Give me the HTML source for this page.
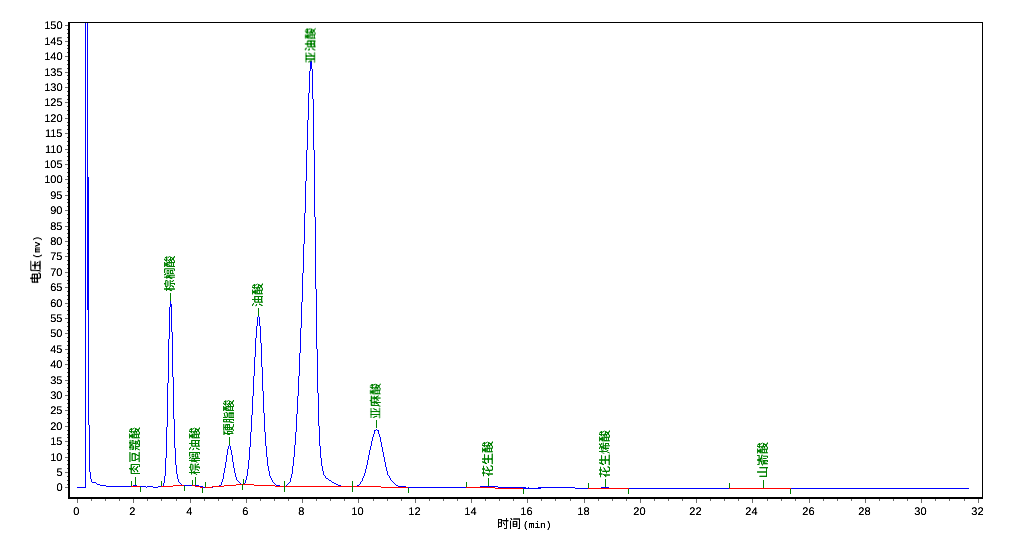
<!DOCTYPE html>
<html lang="zh"><head><meta charset="utf-8"><title>色谱图</title>
<style>
html,body{margin:0;padding:0;background:#fff;}
body{width:1012px;height:552px;overflow:hidden;}
svg{display:block;}
svg rect{shape-rendering:crispEdges;}
svg text{text-rendering:geometricPrecision;}
</style></head><body>
<svg width="1012" height="552" viewBox="0 0 1012 552">
<rect x="0" y="0" width="1012" height="552" fill="#fff"/>
<g>
<rect x="68" y="22" width="915" height="1" fill="#000"/>
<rect x="68" y="22" width="2" height="477" fill="#000"/>
<rect x="68" y="497" width="915" height="2" fill="#000"/>
<rect x="982" y="22" width="1" height="477" fill="#000"/>
<rect x="77" y="499" width="1" height="4" fill="#707070"/>
<rect x="91" y="499" width="1" height="2" fill="#707070"/>
<rect x="105" y="499" width="1" height="2" fill="#707070"/>
<rect x="119" y="499" width="1" height="2" fill="#707070"/>
<rect x="133" y="499" width="1" height="4" fill="#707070"/>
<rect x="147" y="499" width="1" height="2" fill="#707070"/>
<rect x="161" y="499" width="1" height="2" fill="#707070"/>
<rect x="176" y="499" width="1" height="2" fill="#707070"/>
<rect x="190" y="499" width="1" height="4" fill="#707070"/>
<rect x="204" y="499" width="1" height="2" fill="#707070"/>
<rect x="218" y="499" width="1" height="2" fill="#707070"/>
<rect x="232" y="499" width="1" height="2" fill="#707070"/>
<rect x="246" y="499" width="1" height="4" fill="#707070"/>
<rect x="260" y="499" width="1" height="2" fill="#707070"/>
<rect x="274" y="499" width="1" height="2" fill="#707070"/>
<rect x="288" y="499" width="1" height="2" fill="#707070"/>
<rect x="302" y="499" width="1" height="4" fill="#707070"/>
<rect x="316" y="499" width="1" height="2" fill="#707070"/>
<rect x="330" y="499" width="1" height="2" fill="#707070"/>
<rect x="344" y="499" width="1" height="2" fill="#707070"/>
<rect x="358" y="499" width="1" height="4" fill="#707070"/>
<rect x="373" y="499" width="1" height="2" fill="#707070"/>
<rect x="387" y="499" width="1" height="2" fill="#707070"/>
<rect x="401" y="499" width="1" height="2" fill="#707070"/>
<rect x="415" y="499" width="1" height="4" fill="#707070"/>
<rect x="429" y="499" width="1" height="2" fill="#707070"/>
<rect x="443" y="499" width="1" height="2" fill="#707070"/>
<rect x="457" y="499" width="1" height="2" fill="#707070"/>
<rect x="471" y="499" width="1" height="4" fill="#707070"/>
<rect x="485" y="499" width="1" height="2" fill="#707070"/>
<rect x="499" y="499" width="1" height="2" fill="#707070"/>
<rect x="513" y="499" width="1" height="2" fill="#707070"/>
<rect x="527" y="499" width="1" height="4" fill="#707070"/>
<rect x="541" y="499" width="1" height="2" fill="#707070"/>
<rect x="555" y="499" width="1" height="2" fill="#707070"/>
<rect x="570" y="499" width="1" height="2" fill="#707070"/>
<rect x="584" y="499" width="1" height="4" fill="#707070"/>
<rect x="598" y="499" width="1" height="2" fill="#707070"/>
<rect x="612" y="499" width="1" height="2" fill="#707070"/>
<rect x="626" y="499" width="1" height="2" fill="#707070"/>
<rect x="640" y="499" width="1" height="4" fill="#707070"/>
<rect x="654" y="499" width="1" height="2" fill="#707070"/>
<rect x="668" y="499" width="1" height="2" fill="#707070"/>
<rect x="682" y="499" width="1" height="2" fill="#707070"/>
<rect x="696" y="499" width="1" height="4" fill="#707070"/>
<rect x="710" y="499" width="1" height="2" fill="#707070"/>
<rect x="724" y="499" width="1" height="2" fill="#707070"/>
<rect x="738" y="499" width="1" height="2" fill="#707070"/>
<rect x="752" y="499" width="1" height="4" fill="#707070"/>
<rect x="767" y="499" width="1" height="2" fill="#707070"/>
<rect x="781" y="499" width="1" height="2" fill="#707070"/>
<rect x="795" y="499" width="1" height="2" fill="#707070"/>
<rect x="809" y="499" width="1" height="4" fill="#707070"/>
<rect x="823" y="499" width="1" height="2" fill="#707070"/>
<rect x="837" y="499" width="1" height="2" fill="#707070"/>
<rect x="851" y="499" width="1" height="2" fill="#707070"/>
<rect x="865" y="499" width="1" height="4" fill="#707070"/>
<rect x="879" y="499" width="1" height="2" fill="#707070"/>
<rect x="893" y="499" width="1" height="2" fill="#707070"/>
<rect x="907" y="499" width="1" height="2" fill="#707070"/>
<rect x="921" y="499" width="1" height="4" fill="#707070"/>
<rect x="935" y="499" width="1" height="2" fill="#707070"/>
<rect x="949" y="499" width="1" height="2" fill="#707070"/>
<rect x="964" y="499" width="1" height="2" fill="#707070"/>
<rect x="978" y="499" width="1" height="4" fill="#707070"/>
<rect x="65" y="487" width="3" height="1" fill="#707070"/>
<rect x="67" y="484" width="1" height="1" fill="#505050"/>
<rect x="67" y="480" width="1" height="1" fill="#505050"/>
<rect x="67" y="476" width="1" height="1" fill="#505050"/>
<rect x="65" y="472" width="3" height="1" fill="#707070"/>
<rect x="67" y="468" width="1" height="1" fill="#505050"/>
<rect x="67" y="464" width="1" height="1" fill="#505050"/>
<rect x="67" y="460" width="1" height="1" fill="#505050"/>
<rect x="65" y="457" width="3" height="1" fill="#707070"/>
<rect x="67" y="453" width="1" height="1" fill="#505050"/>
<rect x="67" y="449" width="1" height="1" fill="#505050"/>
<rect x="67" y="445" width="1" height="1" fill="#505050"/>
<rect x="65" y="441" width="3" height="1" fill="#707070"/>
<rect x="67" y="437" width="1" height="1" fill="#505050"/>
<rect x="67" y="434" width="1" height="1" fill="#505050"/>
<rect x="67" y="430" width="1" height="1" fill="#505050"/>
<rect x="65" y="426" width="3" height="1" fill="#707070"/>
<rect x="67" y="422" width="1" height="1" fill="#505050"/>
<rect x="67" y="418" width="1" height="1" fill="#505050"/>
<rect x="67" y="414" width="1" height="1" fill="#505050"/>
<rect x="65" y="410" width="3" height="1" fill="#707070"/>
<rect x="67" y="407" width="1" height="1" fill="#505050"/>
<rect x="67" y="403" width="1" height="1" fill="#505050"/>
<rect x="67" y="399" width="1" height="1" fill="#505050"/>
<rect x="65" y="395" width="3" height="1" fill="#707070"/>
<rect x="67" y="391" width="1" height="1" fill="#505050"/>
<rect x="67" y="387" width="1" height="1" fill="#505050"/>
<rect x="67" y="383" width="1" height="1" fill="#505050"/>
<rect x="65" y="380" width="3" height="1" fill="#707070"/>
<rect x="67" y="376" width="1" height="1" fill="#505050"/>
<rect x="67" y="372" width="1" height="1" fill="#505050"/>
<rect x="67" y="368" width="1" height="1" fill="#505050"/>
<rect x="65" y="364" width="3" height="1" fill="#707070"/>
<rect x="67" y="360" width="1" height="1" fill="#505050"/>
<rect x="67" y="357" width="1" height="1" fill="#505050"/>
<rect x="67" y="353" width="1" height="1" fill="#505050"/>
<rect x="65" y="349" width="3" height="1" fill="#707070"/>
<rect x="67" y="345" width="1" height="1" fill="#505050"/>
<rect x="67" y="341" width="1" height="1" fill="#505050"/>
<rect x="67" y="337" width="1" height="1" fill="#505050"/>
<rect x="65" y="333" width="3" height="1" fill="#707070"/>
<rect x="67" y="330" width="1" height="1" fill="#505050"/>
<rect x="67" y="326" width="1" height="1" fill="#505050"/>
<rect x="67" y="322" width="1" height="1" fill="#505050"/>
<rect x="65" y="318" width="3" height="1" fill="#707070"/>
<rect x="67" y="314" width="1" height="1" fill="#505050"/>
<rect x="67" y="310" width="1" height="1" fill="#505050"/>
<rect x="67" y="306" width="1" height="1" fill="#505050"/>
<rect x="65" y="303" width="3" height="1" fill="#707070"/>
<rect x="67" y="299" width="1" height="1" fill="#505050"/>
<rect x="67" y="295" width="1" height="1" fill="#505050"/>
<rect x="67" y="291" width="1" height="1" fill="#505050"/>
<rect x="65" y="287" width="3" height="1" fill="#707070"/>
<rect x="67" y="283" width="1" height="1" fill="#505050"/>
<rect x="67" y="280" width="1" height="1" fill="#505050"/>
<rect x="67" y="276" width="1" height="1" fill="#505050"/>
<rect x="65" y="272" width="3" height="1" fill="#707070"/>
<rect x="67" y="268" width="1" height="1" fill="#505050"/>
<rect x="67" y="264" width="1" height="1" fill="#505050"/>
<rect x="67" y="260" width="1" height="1" fill="#505050"/>
<rect x="65" y="256" width="3" height="1" fill="#707070"/>
<rect x="67" y="253" width="1" height="1" fill="#505050"/>
<rect x="67" y="249" width="1" height="1" fill="#505050"/>
<rect x="67" y="245" width="1" height="1" fill="#505050"/>
<rect x="65" y="241" width="3" height="1" fill="#707070"/>
<rect x="67" y="237" width="1" height="1" fill="#505050"/>
<rect x="67" y="233" width="1" height="1" fill="#505050"/>
<rect x="67" y="229" width="1" height="1" fill="#505050"/>
<rect x="65" y="226" width="3" height="1" fill="#707070"/>
<rect x="67" y="222" width="1" height="1" fill="#505050"/>
<rect x="67" y="218" width="1" height="1" fill="#505050"/>
<rect x="67" y="214" width="1" height="1" fill="#505050"/>
<rect x="65" y="210" width="3" height="1" fill="#707070"/>
<rect x="67" y="206" width="1" height="1" fill="#505050"/>
<rect x="67" y="202" width="1" height="1" fill="#505050"/>
<rect x="67" y="199" width="1" height="1" fill="#505050"/>
<rect x="65" y="195" width="3" height="1" fill="#707070"/>
<rect x="67" y="191" width="1" height="1" fill="#505050"/>
<rect x="67" y="187" width="1" height="1" fill="#505050"/>
<rect x="67" y="183" width="1" height="1" fill="#505050"/>
<rect x="65" y="179" width="3" height="1" fill="#707070"/>
<rect x="67" y="176" width="1" height="1" fill="#505050"/>
<rect x="67" y="172" width="1" height="1" fill="#505050"/>
<rect x="67" y="168" width="1" height="1" fill="#505050"/>
<rect x="65" y="164" width="3" height="1" fill="#707070"/>
<rect x="67" y="160" width="1" height="1" fill="#505050"/>
<rect x="67" y="156" width="1" height="1" fill="#505050"/>
<rect x="67" y="152" width="1" height="1" fill="#505050"/>
<rect x="65" y="149" width="3" height="1" fill="#707070"/>
<rect x="67" y="145" width="1" height="1" fill="#505050"/>
<rect x="67" y="141" width="1" height="1" fill="#505050"/>
<rect x="67" y="137" width="1" height="1" fill="#505050"/>
<rect x="65" y="133" width="3" height="1" fill="#707070"/>
<rect x="67" y="129" width="1" height="1" fill="#505050"/>
<rect x="67" y="125" width="1" height="1" fill="#505050"/>
<rect x="67" y="122" width="1" height="1" fill="#505050"/>
<rect x="65" y="118" width="3" height="1" fill="#707070"/>
<rect x="67" y="114" width="1" height="1" fill="#505050"/>
<rect x="67" y="110" width="1" height="1" fill="#505050"/>
<rect x="67" y="106" width="1" height="1" fill="#505050"/>
<rect x="65" y="102" width="3" height="1" fill="#707070"/>
<rect x="67" y="99" width="1" height="1" fill="#505050"/>
<rect x="67" y="95" width="1" height="1" fill="#505050"/>
<rect x="67" y="91" width="1" height="1" fill="#505050"/>
<rect x="65" y="87" width="3" height="1" fill="#707070"/>
<rect x="67" y="83" width="1" height="1" fill="#505050"/>
<rect x="67" y="79" width="1" height="1" fill="#505050"/>
<rect x="67" y="75" width="1" height="1" fill="#505050"/>
<rect x="65" y="72" width="3" height="1" fill="#707070"/>
<rect x="67" y="68" width="1" height="1" fill="#505050"/>
<rect x="67" y="64" width="1" height="1" fill="#505050"/>
<rect x="67" y="60" width="1" height="1" fill="#505050"/>
<rect x="65" y="56" width="3" height="1" fill="#707070"/>
<rect x="67" y="52" width="1" height="1" fill="#505050"/>
<rect x="67" y="48" width="1" height="1" fill="#505050"/>
<rect x="67" y="45" width="1" height="1" fill="#505050"/>
<rect x="65" y="41" width="3" height="1" fill="#707070"/>
<rect x="67" y="37" width="1" height="1" fill="#505050"/>
<rect x="67" y="33" width="1" height="1" fill="#505050"/>
<rect x="67" y="29" width="1" height="1" fill="#505050"/>
<rect x="65" y="25" width="3" height="1" fill="#707070"/>
<rect x="85" y="23" width="1" height="465" fill="#0000ff"/>
<rect x="87" y="23" width="1" height="287" fill="#0000ff"/>
<rect x="88" y="177" width="1" height="248" fill="#0000ff"/>
<rect x="89" y="425" width="1" height="47" fill="#0000ff"/>
<rect x="90" y="472" width="1" height="7" fill="#0000ff"/>
<rect x="91" y="479" width="1" height="3" fill="#0000ff"/>
<rect x="77" y="487" width="9" height="1" fill="#0000ff"/>
<rect x="92" y="482" width="4" height="1" fill="#0000ff"/>
<rect x="96" y="483" width="1" height="1" fill="#0000ff"/>
<rect x="97" y="484" width="3" height="1" fill="#0000ff"/>
<rect x="100" y="485" width="6" height="1" fill="#0000ff"/>
<rect x="106" y="486" width="27" height="1" fill="#0000ff"/>
<rect x="133" y="485" width="4" height="1" fill="#0000ff"/>
<rect x="137" y="486" width="9" height="1" fill="#0000ff"/>
<rect x="146" y="487" width="1" height="1" fill="#0000ff"/>
<rect x="147" y="486" width="6" height="1" fill="#0000ff"/>
<rect x="153" y="487" width="5" height="1" fill="#0000ff"/>
<rect x="158" y="486" width="5" height="1" fill="#0000ff"/>
<rect x="523" y="488" width="3" height="1" fill="#0000ff"/>
<rect x="528" y="487" width="1" height="1" fill="#0000ff"/>
<rect x="538" y="488" width="3" height="1" fill="#0000ff"/>
<rect x="538" y="487" width="2" height="1" fill="#0000ff"/>
<rect x="162" y="486" width="1" height="1" fill="#0000ff"/>
<rect x="163" y="483" width="1" height="3" fill="#0000ff"/>
<rect x="164" y="476" width="1" height="7" fill="#0000ff"/>
<rect x="165" y="458" width="1" height="18" fill="#0000ff"/>
<rect x="166" y="427" width="1" height="31" fill="#0000ff"/>
<rect x="167" y="383" width="1" height="44" fill="#0000ff"/>
<rect x="168" y="339" width="1" height="44" fill="#0000ff"/>
<rect x="169" y="307" width="1" height="32" fill="#0000ff"/>
<rect x="170" y="301" width="1" height="6" fill="#0000ff"/>
<rect x="171" y="304" width="1" height="28" fill="#0000ff"/>
<rect x="172" y="332" width="1" height="45" fill="#0000ff"/>
<rect x="173" y="377" width="1" height="42" fill="#0000ff"/>
<rect x="174" y="419" width="1" height="29" fill="#0000ff"/>
<rect x="175" y="448" width="1" height="17" fill="#0000ff"/>
<rect x="176" y="465" width="1" height="9" fill="#0000ff"/>
<rect x="177" y="474" width="1" height="5" fill="#0000ff"/>
<rect x="178" y="479" width="1" height="3" fill="#0000ff"/>
<rect x="179" y="482" width="1" height="1" fill="#0000ff"/>
<rect x="180" y="483" width="1" height="1" fill="#0000ff"/>
<rect x="181" y="484" width="1" height="1" fill="#0000ff"/>
<rect x="182" y="485" width="17" height="1" fill="#0000ff"/>
<rect x="199" y="486" width="4" height="1" fill="#0000ff"/>
<rect x="203" y="487" width="10" height="1" fill="#0000ff"/>
<rect x="213" y="486" width="6" height="1" fill="#0000ff"/>
<rect x="219" y="485" width="2" height="1" fill="#0000ff"/>
<rect x="221" y="482" width="1" height="3" fill="#0000ff"/>
<rect x="222" y="479" width="1" height="3" fill="#0000ff"/>
<rect x="223" y="473" width="1" height="6" fill="#0000ff"/>
<rect x="224" y="468" width="1" height="5" fill="#0000ff"/>
<rect x="225" y="462" width="1" height="6" fill="#0000ff"/>
<rect x="226" y="455" width="1" height="7" fill="#0000ff"/>
<rect x="227" y="449" width="1" height="6" fill="#0000ff"/>
<rect x="228" y="446" width="1" height="3" fill="#0000ff"/>
<rect x="229" y="445" width="1" height="1" fill="#0000ff"/>
<rect x="230" y="446" width="1" height="4" fill="#0000ff"/>
<rect x="231" y="450" width="1" height="5" fill="#0000ff"/>
<rect x="232" y="455" width="1" height="7" fill="#0000ff"/>
<rect x="233" y="462" width="1" height="6" fill="#0000ff"/>
<rect x="234" y="468" width="1" height="5" fill="#0000ff"/>
<rect x="235" y="473" width="1" height="4" fill="#0000ff"/>
<rect x="236" y="477" width="1" height="3" fill="#0000ff"/>
<rect x="237" y="480" width="1" height="1" fill="#0000ff"/>
<rect x="238" y="481" width="1" height="1" fill="#0000ff"/>
<rect x="239" y="482" width="1" height="1" fill="#0000ff"/>
<rect x="240" y="483" width="1" height="1" fill="#0000ff"/>
<rect x="241" y="484" width="3" height="1" fill="#0000ff"/>
<rect x="244" y="483" width="1" height="1" fill="#0000ff"/>
<rect x="245" y="480" width="1" height="3" fill="#0000ff"/>
<rect x="246" y="476" width="1" height="4" fill="#0000ff"/>
<rect x="247" y="469" width="1" height="7" fill="#0000ff"/>
<rect x="248" y="460" width="1" height="9" fill="#0000ff"/>
<rect x="249" y="447" width="1" height="13" fill="#0000ff"/>
<rect x="250" y="432" width="1" height="15" fill="#0000ff"/>
<rect x="251" y="415" width="1" height="17" fill="#0000ff"/>
<rect x="252" y="396" width="1" height="19" fill="#0000ff"/>
<rect x="253" y="376" width="1" height="20" fill="#0000ff"/>
<rect x="254" y="357" width="1" height="19" fill="#0000ff"/>
<rect x="255" y="338" width="1" height="19" fill="#0000ff"/>
<rect x="256" y="326" width="1" height="12" fill="#0000ff"/>
<rect x="257" y="317" width="1" height="9" fill="#0000ff"/>
<rect x="258" y="316" width="1" height="1" fill="#0000ff"/>
<rect x="259" y="317" width="1" height="9" fill="#0000ff"/>
<rect x="260" y="326" width="1" height="17" fill="#0000ff"/>
<rect x="261" y="343" width="1" height="24" fill="#0000ff"/>
<rect x="262" y="367" width="1" height="24" fill="#0000ff"/>
<rect x="263" y="391" width="1" height="22" fill="#0000ff"/>
<rect x="264" y="413" width="1" height="19" fill="#0000ff"/>
<rect x="265" y="432" width="1" height="14" fill="#0000ff"/>
<rect x="266" y="446" width="1" height="11" fill="#0000ff"/>
<rect x="267" y="457" width="1" height="9" fill="#0000ff"/>
<rect x="268" y="466" width="1" height="5" fill="#0000ff"/>
<rect x="269" y="471" width="1" height="5" fill="#0000ff"/>
<rect x="270" y="476" width="1" height="2" fill="#0000ff"/>
<rect x="271" y="478" width="1" height="2" fill="#0000ff"/>
<rect x="272" y="480" width="1" height="2" fill="#0000ff"/>
<rect x="273" y="482" width="1" height="1" fill="#0000ff"/>
<rect x="274" y="483" width="1" height="1" fill="#0000ff"/>
<rect x="275" y="484" width="1" height="1" fill="#0000ff"/>
<rect x="276" y="485" width="4" height="1" fill="#0000ff"/>
<rect x="280" y="486" width="6" height="1" fill="#0000ff"/>
<rect x="286" y="485" width="1" height="1" fill="#0000ff"/>
<rect x="287" y="484" width="1" height="1" fill="#0000ff"/>
<rect x="288" y="483" width="1" height="1" fill="#0000ff"/>
<rect x="289" y="482" width="1" height="1" fill="#0000ff"/>
<rect x="290" y="478" width="1" height="4" fill="#0000ff"/>
<rect x="291" y="474" width="1" height="4" fill="#0000ff"/>
<rect x="292" y="466" width="1" height="8" fill="#0000ff"/>
<rect x="293" y="457" width="1" height="9" fill="#0000ff"/>
<rect x="294" y="445" width="1" height="12" fill="#0000ff"/>
<rect x="295" y="432" width="1" height="13" fill="#0000ff"/>
<rect x="296" y="414" width="1" height="18" fill="#0000ff"/>
<rect x="297" y="396" width="1" height="18" fill="#0000ff"/>
<rect x="298" y="376" width="1" height="20" fill="#0000ff"/>
<rect x="299" y="353" width="1" height="23" fill="#0000ff"/>
<rect x="300" y="328" width="1" height="25" fill="#0000ff"/>
<rect x="301" y="302" width="1" height="26" fill="#0000ff"/>
<rect x="302" y="273" width="1" height="29" fill="#0000ff"/>
<rect x="303" y="244" width="1" height="29" fill="#0000ff"/>
<rect x="304" y="213" width="1" height="31" fill="#0000ff"/>
<rect x="305" y="181" width="1" height="32" fill="#0000ff"/>
<rect x="306" y="150" width="1" height="31" fill="#0000ff"/>
<rect x="307" y="120" width="1" height="30" fill="#0000ff"/>
<rect x="308" y="93" width="1" height="27" fill="#0000ff"/>
<rect x="309" y="71" width="1" height="22" fill="#0000ff"/>
<rect x="310" y="61" width="1" height="10" fill="#0000ff"/>
<rect x="311" y="61" width="1" height="8" fill="#0000ff"/>
<rect x="312" y="69" width="1" height="30" fill="#0000ff"/>
<rect x="313" y="99" width="1" height="51" fill="#0000ff"/>
<rect x="314" y="150" width="1" height="67" fill="#0000ff"/>
<rect x="315" y="217" width="1" height="72" fill="#0000ff"/>
<rect x="316" y="289" width="1" height="60" fill="#0000ff"/>
<rect x="317" y="349" width="1" height="44" fill="#0000ff"/>
<rect x="318" y="393" width="1" height="33" fill="#0000ff"/>
<rect x="319" y="426" width="1" height="20" fill="#0000ff"/>
<rect x="320" y="446" width="1" height="12" fill="#0000ff"/>
<rect x="321" y="458" width="1" height="8" fill="#0000ff"/>
<rect x="322" y="466" width="1" height="5" fill="#0000ff"/>
<rect x="323" y="471" width="1" height="4" fill="#0000ff"/>
<rect x="324" y="475" width="1" height="1" fill="#0000ff"/>
<rect x="325" y="476" width="1" height="2" fill="#0000ff"/>
<rect x="326" y="478" width="2" height="1" fill="#0000ff"/>
<rect x="328" y="479" width="1" height="1" fill="#0000ff"/>
<rect x="329" y="480" width="2" height="1" fill="#0000ff"/>
<rect x="331" y="481" width="1" height="1" fill="#0000ff"/>
<rect x="332" y="482" width="2" height="1" fill="#0000ff"/>
<rect x="334" y="483" width="2" height="1" fill="#0000ff"/>
<rect x="336" y="484" width="2" height="1" fill="#0000ff"/>
<rect x="338" y="485" width="3" height="1" fill="#0000ff"/>
<rect x="341" y="486" width="16" height="1" fill="#0000ff"/>
<rect x="357" y="485" width="2" height="1" fill="#0000ff"/>
<rect x="359" y="484" width="1" height="1" fill="#0000ff"/>
<rect x="360" y="482" width="1" height="2" fill="#0000ff"/>
<rect x="361" y="481" width="1" height="1" fill="#0000ff"/>
<rect x="362" y="478" width="1" height="3" fill="#0000ff"/>
<rect x="363" y="476" width="1" height="2" fill="#0000ff"/>
<rect x="364" y="473" width="1" height="3" fill="#0000ff"/>
<rect x="365" y="469" width="1" height="4" fill="#0000ff"/>
<rect x="366" y="465" width="1" height="4" fill="#0000ff"/>
<rect x="367" y="460" width="1" height="5" fill="#0000ff"/>
<rect x="368" y="455" width="1" height="5" fill="#0000ff"/>
<rect x="369" y="450" width="1" height="5" fill="#0000ff"/>
<rect x="370" y="446" width="1" height="4" fill="#0000ff"/>
<rect x="371" y="441" width="1" height="5" fill="#0000ff"/>
<rect x="372" y="437" width="1" height="4" fill="#0000ff"/>
<rect x="373" y="434" width="1" height="3" fill="#0000ff"/>
<rect x="374" y="430" width="1" height="4" fill="#0000ff"/>
<rect x="375" y="430" width="1" height="1" fill="#0000ff"/>
<rect x="376" y="429" width="1" height="1" fill="#0000ff"/>
<rect x="377" y="430" width="1" height="1" fill="#0000ff"/>
<rect x="378" y="430" width="1" height="4" fill="#0000ff"/>
<rect x="379" y="434" width="1" height="3" fill="#0000ff"/>
<rect x="380" y="437" width="1" height="5" fill="#0000ff"/>
<rect x="381" y="442" width="1" height="5" fill="#0000ff"/>
<rect x="382" y="447" width="1" height="5" fill="#0000ff"/>
<rect x="383" y="452" width="1" height="5" fill="#0000ff"/>
<rect x="384" y="457" width="1" height="5" fill="#0000ff"/>
<rect x="385" y="462" width="1" height="5" fill="#0000ff"/>
<rect x="386" y="467" width="1" height="4" fill="#0000ff"/>
<rect x="387" y="471" width="1" height="4" fill="#0000ff"/>
<rect x="388" y="475" width="1" height="1" fill="#0000ff"/>
<rect x="389" y="476" width="1" height="2" fill="#0000ff"/>
<rect x="390" y="478" width="1" height="2" fill="#0000ff"/>
<rect x="391" y="480" width="1" height="1" fill="#0000ff"/>
<rect x="392" y="481" width="1" height="1" fill="#0000ff"/>
<rect x="393" y="482" width="1" height="1" fill="#0000ff"/>
<rect x="394" y="483" width="1" height="1" fill="#0000ff"/>
<rect x="395" y="484" width="1" height="1" fill="#0000ff"/>
<rect x="396" y="485" width="2" height="1" fill="#0000ff"/>
<rect x="398" y="486" width="8" height="1" fill="#0000ff"/>
<rect x="406" y="487" width="74" height="1" fill="#0000ff"/>
<rect x="480" y="486" width="18" height="1" fill="#0000ff"/>
<rect x="498" y="487" width="28" height="1" fill="#0000ff"/>
<rect x="526" y="488" width="12" height="1" fill="#0000ff"/>
<rect x="538" y="487" width="37" height="1" fill="#0000ff"/>
<rect x="575" y="488" width="26" height="1" fill="#0000ff"/>
<rect x="601" y="487" width="8" height="1" fill="#0000ff"/>
<rect x="609" y="488" width="360" height="1" fill="#0000ff"/>
<rect x="131" y="486" width="9" height="1" fill="#ff0000"/>
<rect x="161" y="486" width="12" height="1" fill="#ff0000"/>
<rect x="173" y="485" width="11" height="1" fill="#ff0000"/>
<rect x="192" y="485" width="3" height="1" fill="#ff0000"/>
<rect x="195" y="486" width="5" height="1" fill="#ff0000"/>
<rect x="200" y="487" width="3" height="1" fill="#ff0000"/>
<rect x="205" y="487" width="7" height="1" fill="#ff0000"/>
<rect x="212" y="486" width="12" height="1" fill="#ff0000"/>
<rect x="224" y="485" width="12" height="1" fill="#ff0000"/>
<rect x="236" y="484" width="18" height="1" fill="#ff0000"/>
<rect x="254" y="485" width="21" height="1" fill="#ff0000"/>
<rect x="275" y="486" width="106" height="1" fill="#ff0000"/>
<rect x="381" y="487" width="27" height="1" fill="#ff0000"/>
<rect x="466" y="487" width="29" height="1" fill="#ff0000"/>
<rect x="495" y="488" width="28" height="1" fill="#ff0000"/>
<rect x="588" y="488" width="41" height="1" fill="#ff0000"/>
<rect x="729" y="488" width="62" height="1" fill="#ff0000"/>
<rect x="131" y="481" width="1" height="5" fill="#008000"/>
<rect x="135" y="477" width="1" height="8" fill="#008000"/>
<rect x="140" y="487" width="1" height="5" fill="#008000"/>
<rect x="161" y="481" width="1" height="5" fill="#008000"/>
<rect x="170" y="293" width="1" height="8" fill="#008000"/>
<rect x="184" y="486" width="1" height="5" fill="#008000"/>
<rect x="192" y="480" width="1" height="5" fill="#008000"/>
<rect x="195" y="477" width="1" height="8" fill="#008000"/>
<rect x="202" y="488" width="1" height="5" fill="#008000"/>
<rect x="205" y="482" width="1" height="5" fill="#008000"/>
<rect x="229" y="437" width="1" height="8" fill="#008000"/>
<rect x="243" y="479" width="1" height="5" fill="#008000"/>
<rect x="242" y="484" width="1" height="6" fill="#008000"/>
<rect x="258" y="308" width="1" height="8" fill="#008000"/>
<rect x="284" y="481" width="1" height="11" fill="#008000"/>
<rect x="352" y="481" width="1" height="11" fill="#008000"/>
<rect x="376" y="420" width="1" height="8" fill="#008000"/>
<rect x="408" y="488" width="1" height="5" fill="#008000"/>
<rect x="466" y="482" width="1" height="5" fill="#008000"/>
<rect x="488" y="478" width="1" height="8" fill="#008000"/>
<rect x="523" y="489" width="1" height="5" fill="#008000"/>
<rect x="588" y="483" width="1" height="5" fill="#008000"/>
<rect x="605" y="479" width="1" height="8" fill="#008000"/>
<rect x="628" y="489" width="1" height="5" fill="#008000"/>
<rect x="729" y="483" width="1" height="5" fill="#008000"/>
<rect x="763" y="480" width="1" height="8" fill="#008000"/>
<rect x="790" y="489" width="1" height="5" fill="#008000"/>
</g>
<defs><filter id="th" x="0" y="0" width="1012" height="552" filterUnits="userSpaceOnUse" color-interpolation-filters="sRGB"><feComponentTransfer><feFuncA type="linear" slope="1.7" intercept="-0.12"/></feComponentTransfer></filter><filter id="tb" x="0" y="0" width="1012" height="552" filterUnits="userSpaceOnUse" color-interpolation-filters="sRGB"><feComponentTransfer><feFuncA type="linear" slope="1.4" intercept="-0.04"/></feComponentTransfer></filter></defs>
<g filter="url(#th)">
<text transform="translate(138.7,475.0) rotate(-90)" font-family='"Liberation Sans","Noto Sans CJK SC",sans-serif' font-size="12" fill="#008000">肉豆蔻酸</text>
<text transform="translate(173.7,291.6) rotate(-90)" font-family='"Liberation Sans","Noto Sans CJK SC",sans-serif' font-size="12" fill="#008000">棕榈酸</text>
<text transform="translate(198.7,475.0) rotate(-90)" font-family='"Liberation Sans","Noto Sans CJK SC",sans-serif' font-size="12" fill="#008000">棕榈油酸</text>
<text transform="translate(232.7,435.5) rotate(-90)" font-family='"Liberation Sans","Noto Sans CJK SC",sans-serif' font-size="12" fill="#008000">硬脂酸</text>
<text transform="translate(261.7,307.0) rotate(-90)" font-family='"Liberation Sans","Noto Sans CJK SC",sans-serif' font-size="12" fill="#008000">油酸</text>
<text transform="translate(314.7,63.5) rotate(-90)" font-family='"Liberation Sans","Noto Sans CJK SC",sans-serif' font-size="12" fill="#008000">亚油酸</text>
<text transform="translate(379.7,419.0) rotate(-90)" font-family='"Liberation Sans","Noto Sans CJK SC",sans-serif' font-size="12" fill="#008000">亚麻酸</text>
<text transform="translate(491.7,477.0) rotate(-90)" font-family='"Liberation Sans","Noto Sans CJK SC",sans-serif' font-size="12" fill="#008000">花生酸</text>
<text transform="translate(608.7,478.0) rotate(-90)" font-family='"Liberation Sans","Noto Sans CJK SC",sans-serif' font-size="12" fill="#008000">花生烯酸</text>
<text transform="translate(766.7,478.0) rotate(-90)" font-family='"Liberation Sans","Noto Sans CJK SC",sans-serif' font-size="12" fill="#008000">山嵛酸</text>
<text x="497" y="528" font-family='"Liberation Sans","Noto Sans CJK SC",sans-serif' font-size="12" fill="#000">时间<tspan dx="2" font-family='"Liberation Mono",monospace' font-size="9.5">(min)</tspan></text>
<text transform="translate(40,284.2) rotate(-90)" font-family='"Liberation Sans","Noto Sans CJK SC",sans-serif' font-size="12" fill="#000">电压<tspan dx="1.5" font-family='"Liberation Mono",monospace' font-size="9.5">(mv)</tspan></text>
</g>
<g filter="url(#tb)">
<text x="76.4" y="514.6" text-anchor="middle" font-family='"Liberation Sans",sans-serif' font-size="11" fill="#000">0</text>
<text x="132.4" y="514.6" text-anchor="middle" font-family='"Liberation Sans",sans-serif' font-size="11" fill="#000">2</text>
<text x="189.4" y="514.6" text-anchor="middle" font-family='"Liberation Sans",sans-serif' font-size="11" fill="#000">4</text>
<text x="245.4" y="514.6" text-anchor="middle" font-family='"Liberation Sans",sans-serif' font-size="11" fill="#000">6</text>
<text x="301.4" y="514.6" text-anchor="middle" font-family='"Liberation Sans",sans-serif' font-size="11" fill="#000">8</text>
<text x="357.4" y="514.6" text-anchor="middle" font-family='"Liberation Sans",sans-serif' font-size="11" fill="#000">10</text>
<text x="414.4" y="514.6" text-anchor="middle" font-family='"Liberation Sans",sans-serif' font-size="11" fill="#000">12</text>
<text x="470.4" y="514.6" text-anchor="middle" font-family='"Liberation Sans",sans-serif' font-size="11" fill="#000">14</text>
<text x="526.4" y="514.6" text-anchor="middle" font-family='"Liberation Sans",sans-serif' font-size="11" fill="#000">16</text>
<text x="583.4" y="514.6" text-anchor="middle" font-family='"Liberation Sans",sans-serif' font-size="11" fill="#000">18</text>
<text x="639.4" y="514.6" text-anchor="middle" font-family='"Liberation Sans",sans-serif' font-size="11" fill="#000">20</text>
<text x="695.4" y="514.6" text-anchor="middle" font-family='"Liberation Sans",sans-serif' font-size="11" fill="#000">22</text>
<text x="751.4" y="514.6" text-anchor="middle" font-family='"Liberation Sans",sans-serif' font-size="11" fill="#000">24</text>
<text x="808.4" y="514.6" text-anchor="middle" font-family='"Liberation Sans",sans-serif' font-size="11" fill="#000">26</text>
<text x="864.4" y="514.6" text-anchor="middle" font-family='"Liberation Sans",sans-serif' font-size="11" fill="#000">28</text>
<text x="920.4" y="514.6" text-anchor="middle" font-family='"Liberation Sans",sans-serif' font-size="11" fill="#000">30</text>
<text x="977.4" y="514.6" text-anchor="middle" font-family='"Liberation Sans",sans-serif' font-size="11" fill="#000">32</text>
<text x="62.5" y="490.9" text-anchor="end" font-family='"Liberation Sans",sans-serif' font-size="11" fill="#000">0</text>
<text x="62.5" y="475.9" text-anchor="end" font-family='"Liberation Sans",sans-serif' font-size="11" fill="#000">5</text>
<text x="62.5" y="460.9" text-anchor="end" font-family='"Liberation Sans",sans-serif' font-size="11" fill="#000">10</text>
<text x="62.5" y="444.9" text-anchor="end" font-family='"Liberation Sans",sans-serif' font-size="11" fill="#000">15</text>
<text x="62.5" y="429.9" text-anchor="end" font-family='"Liberation Sans",sans-serif' font-size="11" fill="#000">20</text>
<text x="62.5" y="413.9" text-anchor="end" font-family='"Liberation Sans",sans-serif' font-size="11" fill="#000">25</text>
<text x="62.5" y="398.9" text-anchor="end" font-family='"Liberation Sans",sans-serif' font-size="11" fill="#000">30</text>
<text x="62.5" y="383.9" text-anchor="end" font-family='"Liberation Sans",sans-serif' font-size="11" fill="#000">35</text>
<text x="62.5" y="367.9" text-anchor="end" font-family='"Liberation Sans",sans-serif' font-size="11" fill="#000">40</text>
<text x="62.5" y="352.9" text-anchor="end" font-family='"Liberation Sans",sans-serif' font-size="11" fill="#000">45</text>
<text x="62.5" y="336.9" text-anchor="end" font-family='"Liberation Sans",sans-serif' font-size="11" fill="#000">50</text>
<text x="62.5" y="321.9" text-anchor="end" font-family='"Liberation Sans",sans-serif' font-size="11" fill="#000">55</text>
<text x="62.5" y="306.9" text-anchor="end" font-family='"Liberation Sans",sans-serif' font-size="11" fill="#000">60</text>
<text x="62.5" y="290.9" text-anchor="end" font-family='"Liberation Sans",sans-serif' font-size="11" fill="#000">65</text>
<text x="62.5" y="275.9" text-anchor="end" font-family='"Liberation Sans",sans-serif' font-size="11" fill="#000">70</text>
<text x="62.5" y="259.9" text-anchor="end" font-family='"Liberation Sans",sans-serif' font-size="11" fill="#000">75</text>
<text x="62.5" y="244.9" text-anchor="end" font-family='"Liberation Sans",sans-serif' font-size="11" fill="#000">80</text>
<text x="62.5" y="229.9" text-anchor="end" font-family='"Liberation Sans",sans-serif' font-size="11" fill="#000">85</text>
<text x="62.5" y="213.9" text-anchor="end" font-family='"Liberation Sans",sans-serif' font-size="11" fill="#000">90</text>
<text x="62.5" y="198.9" text-anchor="end" font-family='"Liberation Sans",sans-serif' font-size="11" fill="#000">95</text>
<text x="62.5" y="182.9" text-anchor="end" font-family='"Liberation Sans",sans-serif' font-size="11" fill="#000">100</text>
<text x="62.5" y="167.9" text-anchor="end" font-family='"Liberation Sans",sans-serif' font-size="11" fill="#000">105</text>
<text x="62.5" y="152.9" text-anchor="end" font-family='"Liberation Sans",sans-serif' font-size="11" fill="#000">110</text>
<text x="62.5" y="136.9" text-anchor="end" font-family='"Liberation Sans",sans-serif' font-size="11" fill="#000">115</text>
<text x="62.5" y="121.9" text-anchor="end" font-family='"Liberation Sans",sans-serif' font-size="11" fill="#000">120</text>
<text x="62.5" y="105.9" text-anchor="end" font-family='"Liberation Sans",sans-serif' font-size="11" fill="#000">125</text>
<text x="62.5" y="90.9" text-anchor="end" font-family='"Liberation Sans",sans-serif' font-size="11" fill="#000">130</text>
<text x="62.5" y="75.9" text-anchor="end" font-family='"Liberation Sans",sans-serif' font-size="11" fill="#000">135</text>
<text x="62.5" y="59.9" text-anchor="end" font-family='"Liberation Sans",sans-serif' font-size="11" fill="#000">140</text>
<text x="62.5" y="44.9" text-anchor="end" font-family='"Liberation Sans",sans-serif' font-size="11" fill="#000">145</text>
<text x="62.5" y="28.9" text-anchor="end" font-family='"Liberation Sans",sans-serif' font-size="11" fill="#000">150</text>
</g>
</svg>
</body></html>
